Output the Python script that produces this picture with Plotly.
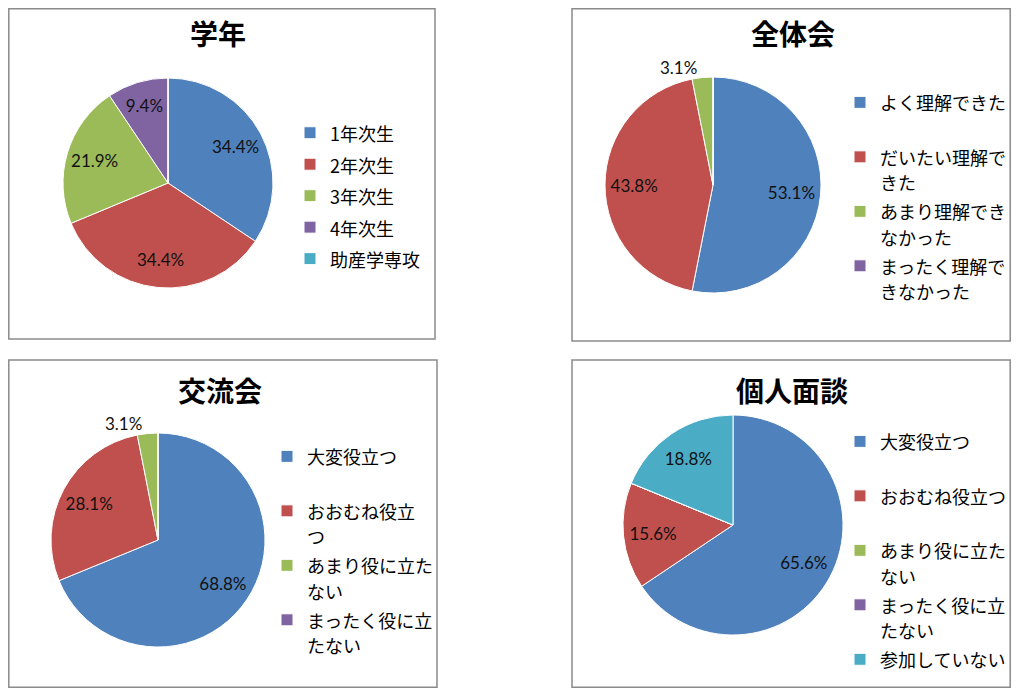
import plotly.graph_objects as go

# the page body keeps an 8px margin; the figure fills exactly the rest of the 1019x696 window
OFF = 8
W, H = 1019 - 2 * OFF, 696 - 2 * OFF

# survey results, percent of respondents
gakunen_labels = ['1年次生', '2年次生', '3年次生', '4年次生', '助産学専攻']
gakunen_values = [34.4, 34.4, 21.9, 9.4, 0.0]

zentai_labels = ['よく理解できた', 'だいたい理解で<br>きた', 'あまり理解でき<br>なかった',
                 'まったく理解で<br>きなかった']
zentai_values = [53.1, 43.8, 3.1, 0.0]

koryu_labels = ['大変役立つ', 'おおむね役立<br>つ', 'あまり役に立た<br>ない', 'まったく役に立<br>たない']
koryu_values = [68.8, 28.1, 3.1, 0.0]

kojin_labels = ['大変役立つ', 'おおむね役立つ', 'あまり役に立た<br>ない', 'まったく役に立<br>たない',
                '参加していない']
kojin_values = [65.6, 15.6, 0.0, 0.0, 18.8]

COLORS = ['#4F81BD', '#C0504D', '#9BBB59', '#8064A2', '#4BACC6']
JP = 'Noto Sans CJK JP'


def px(x, y):
    # window pixel -> paper coords, kept inside the figure
    fx = min(max(x - OFF, 0.8), W - 0.8)
    fy = min(max(y - OFF, 0.8), H - 0.8)
    return fx / W, 1 - fy / H


def legend_text(label, lines, panel):
    # pad to a fixed line count so every entry gets the same slot height;
    # the panel number keeps equal labels of different pies apart in the legends
    n = label.count('<br>') + 1
    label = label + '<br> ' * (lines - n)
    return '<span style="font-size:18px;order:%d">%s</span>' % (panel, label)


# title, labels, values, pie centre/radius px, legend text x / top px, legend line font, lines per entry
panels = [
    ('学年', gakunen_labels, gakunen_values, (168, 183, 105), (327, 112), 21.9, 1),
    ('全体会', zentai_labels, zentai_values, (713, 185, 108), (877, 83), 19.8, 2),
    ('交流会', koryu_labels, koryu_values, (158, 540, 107), (304, 437), 19.8, 2),
    ('個人面談', kojin_labels, kojin_values, (733, 525, 110), (877, 422), 19.8, 2),
]
boxes = [(4, 3, 435, 339), (572, 4, 1013, 341), (5, 360, 437, 690), (572, 360, 1013, 690)]
title_pos = [(218, 33), (793, 33), (220, 390), (792, 390)]

fig = go.Figure()
layout_extra = {}
for i, (title, labels, values, (cx, cy, r), (lx, ly), lsize, lines) in enumerate(panels):
    key = 'legend' if i == 0 else 'legend%d' % (i + 1)
    x0, y1 = px(cx - r, cy - r)
    x1, y0 = px(cx + r, cy + r)
    domain = dict(x=[x0, x1], y=[y0, y1])
    names = [legend_text(l, lines, i) for l in labels]
    # coloured pie with the legend
    fig.add_trace(go.Pie(
        labels=names, values=values, textinfo='none', hoverinfo='skip',
        marker=dict(colors=COLORS[:len(values)], line=dict(color='white', width=1)),
        sort=False, direction='clockwise', rotation=0,
        domain=domain, legend=key,
    ))
    # transparent ring on top only carries the data labels, pushing them outwards
    fig.add_trace(go.Pie(
        labels=names, values=values, hole=0.46, showlegend=False,
        text=['%.1f%%' % v if v else '' for v in values],
        textinfo='text', hoverinfo='text',
        textposition=['outside' if v < 5 else 'inside' for v in values],
        insidetextorientation='horizontal',
        textfont=dict(family='Lato, ' + JP, size=17, color='#111111'),
        marker=dict(colors=['rgba(0,0,0,0)'] * len(values), line=dict(width=0)),
        sort=False, direction='clockwise', rotation=0,
        domain=domain,
    ))
    lxp, lyp = px(lx - 37, ly)
    layout_extra[key] = dict(
        x=lxp, y=lyp, xanchor='left', yanchor='top',
        font=dict(family=JP, size=lsize, color='#000000'),
        valign='top', bgcolor='rgba(0,0,0,0)', borderwidth=0,
    )
    tx, ty = px(*title_pos[i])
    fig.add_annotation(
        x=tx, y=ty, xref='paper', yref='paper',
        text='<b>%s</b>' % title, showarrow=False, xanchor='center', yanchor='middle',
        font=dict(family=JP, size=28, color='#000000'),
    )
    bx0, by0, bx1, by1 = boxes[i]
    sx0, sy1 = px(bx0, by0)
    sx1, sy0 = px(bx1, by1)
    fig.add_shape(type='rect', xref='paper', yref='paper',
                  x0=sx0, x1=sx1, y0=sy0, y1=sy1,
                  line=dict(color='#8a8a8a', width=1.5))

fig.update_layout(
    width=W, height=H, autosize=False,
    # legends near the edges must not push the margins in
    margin=dict(l=0, r=0, t=0, b=0, autoexpand=False),
    paper_bgcolor='white', plot_bgcolor='white',
    uniformtext=dict(minsize=17, mode='show'),
    **layout_extra,
)
fig.write_html('out.html')
